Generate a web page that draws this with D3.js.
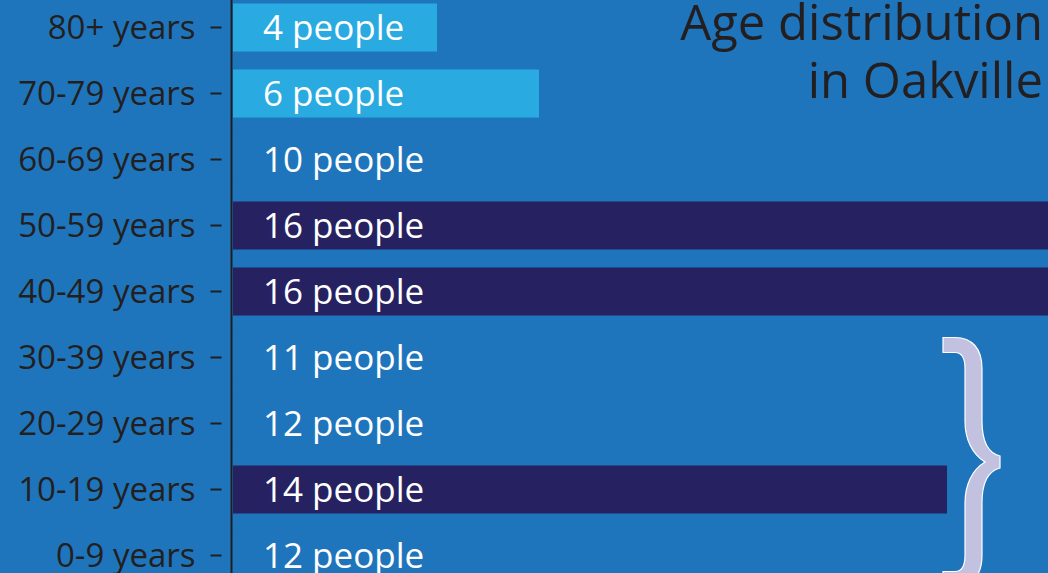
<!DOCTYPE html>
<html>
<head>
    <script src="https://d3js.org/d3.v7.min.js"></script>
    <style>
        body { margin: 0; background: #1f75bc; }
        svg { display: block; font-family: "Open Sans", sans-serif; }
    </style>
</head>
<body>
    <svg width="1048" height="573"></svg>

    <script>
        const svg = d3.select("svg"),
              width = 1048, height = 573;

        // Data, top row first
        const ageGroups = ["80+ years", "70-79 years", "60-69 years", "50-59 years", "40-49 years",
                           "30-39 years", "20-29 years", "10-19 years", "0-9 years"];
        const people = [4, 6, 10, 16, 16, 11, 12, 14, 12];
        const barColors = ["#29abe2", "#29abe2", "#1f75bc", "#262262", "#262262",
                           "#1f75bc", "#1f75bc", "#262262", "#1f75bc"];
        const titleLines = ["Age distribution", "in Oakville"];

        const data = ageGroups.map((g, i) => ({ group: g, value: people[i], color: barColors[i] }));

        svg.append("rect").attr("width", width).attr("height", height).attr("fill", "#1f75bc");

        const x = d3.scaleLinear().domain([0, 16]).range([233, 1049]);
        const y = d3.scaleBand().domain(ageGroups).range([-5.5, 588.5])
            .paddingInner(18 / 66).paddingOuter(9 / 66);

        // Bars
        svg.selectAll("rect.bar")
            .data(data)
            .enter().append("rect")
            .attr("class", "bar")
            .attr("x", x(0))
            .attr("y", d => y(d.group))
            .attr("width", d => x(d.value) - x(0))
            .attr("height", y.bandwidth())
            .attr("fill", d => d.color);

        // Value labels
        svg.selectAll("text.val")
            .data(data)
            .enter().append("text")
            .attr("class", "val")
            .attr("x", x(0) + 30)
            .attr("y", d => y(d.group) + y.bandwidth() / 2 + 12)
            .attr("fill", "white")
            .attr("font-size", "35px")
            .text(d => `${d.value} people`);

        // Y axis
        const yAxis = d3.axisLeft(y).tickSize(0).tickPadding(36);
        const axisG = svg.append("g")
            .attr("transform", `translate(231.5, 0)`)
            .call(yAxis);
        axisG.select(".domain").remove();
        axisG.selectAll(".tick text")
            .attr("fill", "#231f20")
            .attr("font-size", "33px")
            .attr("font-family", "Open Sans, sans-serif")
            .attr("dy", "0.35em");
        axisG.selectAll(".tick").append("line")
            .attr("x1", -21).attr("x2", -10)
            .attr("stroke", "#231f20").attr("stroke-width", 2);
        axisG.append("line")
            .attr("y1", 0).attr("y2", height)
            .attr("stroke", "#231f20").attr("stroke-width", 2);

        // Title
        svg.append("text")
            .attr("text-anchor", "end")
            .attr("fill", "#231f20")
            .attr("font-size", "49px")
            .selectAll("tspan")
            .data(titleLines)
            .enter().append("tspan")
            .attr("x", 1043)
            .attr("y", (d, i) => 40 + i * 58)
            .text(d => d);

        // Brace around the youngest four groups
        const b0 = y("30-39 years") + 4, b1 = y("0-9 years") + y.bandwidth() + 7;
        const m = (b0 + b1) / 2;
        const r = v => b0 + v, rb = v => b1 - v;
        const brace = [
            `M943,${r(0)} H955 C972,${r(0)} 982,${r(11)} 982,${r(31)} V${m - 41}`,
            `C982,${m - 21} 988,${m - 9} 1000,${m - 6} V${m + 6}`,
            `C988,${m + 9} 982,${m + 21} 982,${m + 41} V${rb(31)}`,
            `C982,${rb(11)} 972,${rb(0)} 955,${rb(0)} H943 V${rb(15)} H955`,
            `C962,${rb(15)} 965,${rb(20)} 965,${rb(31)} V${m + 41}`,
            `C965,${m + 23} 972,${m + 8} 985,${m}`,
            `C972,${m - 8} 965,${m - 23} 965,${m - 41} V${r(31)}`,
            `C965,${r(20)} 962,${r(15)} 955,${r(15)} H943 Z`
        ].join(" ");
        svg.append("path")
            .attr("d", brace)
            .attr("fill", "#c2c2e0")
            .attr("stroke", "white")
            .attr("stroke-width", 1.2);
    </script>
</body>
</html>
